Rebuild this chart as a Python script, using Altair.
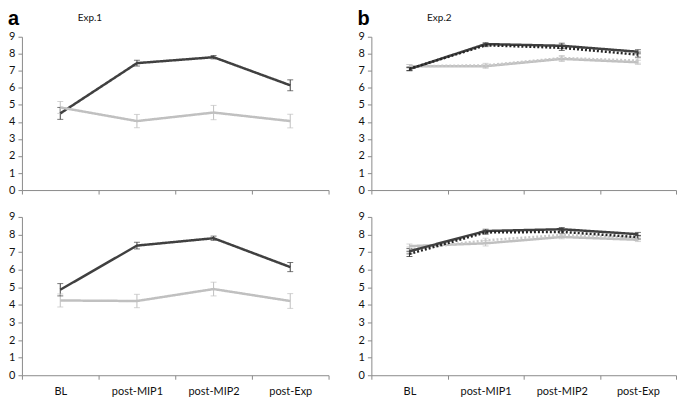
import altair as alt
import pandas as pd

categories = ["BL", "post-MIP1", "post-MIP2", "post-Exp"]

# Exp.1 (panel a) top
e1_top_dark = [4.5, 7.45, 7.8, 6.15]
e1_top_dark_err = [0.35, 0.17, 0.1, 0.32]
e1_top_light = [4.85, 4.05, 4.55, 4.05]
e1_top_light_err = [0.35, 0.39, 0.42, 0.4]
# Exp.1 bottom
e1_bot_dark = [4.86, 7.37, 7.79, 6.15]
e1_bot_dark_err = [0.35, 0.19, 0.12, 0.26]
e1_bot_light = [4.25, 4.22, 4.9, 4.22]
e1_bot_light_err = [0.37, 0.38, 0.39, 0.42]
# Exp.2 (panel b) top
e2_top_dark = [7.1, 8.57, 8.47, 8.12]
e2_top_dark_err = [0.1, 0.08, 0.15, 0.12]
e2_top_dark_dot = [7.12, 8.5, 8.35, 7.95]
e2_top_dark_dot_err = [0.1, 0.08, 0.15, 0.15]
e2_top_light = [7.27, 7.27, 7.7, 7.5]
e2_top_light_err = [0.1, 0.12, 0.15, 0.12]
e2_top_light_dot = [7.27, 7.32, 7.75, 7.6]
e2_top_light_dot_err = [0.1, 0.12, 0.15, 0.15]
# Exp.2 bottom
e2_bot_dark = [7.05, 8.2, 8.3, 8.02]
e2_bot_dark_err = [0.15, 0.1, 0.1, 0.1]
e2_bot_dark_dot = [6.9, 8.12, 8.15, 7.85]
e2_bot_dark_dot_err = [0.15, 0.1, 0.1, 0.1]
e2_bot_light = [7.34, 7.5, 7.86, 7.7]
e2_bot_light_err = [0.12, 0.15, 0.1, 0.1]
e2_bot_light_dot = [7.15, 7.67, 7.97, 7.8]
e2_bot_light_dot_err = [0.15, 0.12, 0.1, 0.1]

series_names = ["dark", "dark dotted", "light", "light dotted"]
series_colors = ["#404040", "#262626", "#c0c0c0", "#c8c8c8"]
series_dash = [[1, 0], [2, 2], [1, 0], [2, 2]]

FONT = "Lato"
AXIS_GRAY = "#8a8a8a"


def make_df(series):
    rows = []
    for name, vals, errs in series:
        for c, v, e in zip(categories, vals, errs):
            rows.append({"cat": c, "series": name, "value": v, "lo": v - e, "hi": v + e})
    return pd.DataFrame(rows)


def panel(series, show_labels, w, h, letter=None, exp_label=None):
    df = make_df(series)
    base = alt.Chart(df)
    x = alt.X(
        "cat:N",
        sort=categories,
        scale=alt.Scale(type="band", paddingInner=0, paddingOuter=0, domain=categories),
        axis=alt.Axis(
            title=None,
            labels=show_labels,
            tickBand="extent",
            domainColor=AXIS_GRAY,
            tickColor=AXIS_GRAY,
            tickSize=4,
            labelAngle=0,
            labelFont=FONT,
            labelFontSize=11,
            labelColor="#111111",
            labelPadding=6,
        ),
    )
    yaxis = alt.Axis(
        title=None,
        values=list(range(10)),
        grid=False,
        labelOverlap=False,
        domainColor=AXIS_GRAY,
        tickColor=AXIS_GRAY,
        tickSize=4,
        labelFont=FONT,
        labelFontSize=11,
        labelColor="#111111",
        labelPadding=3,
    )
    yscale = alt.Scale(domain=[0, 9], nice=False, zero=True)
    color = alt.Color(
        "series:N", scale=alt.Scale(domain=series_names, range=series_colors), legend=None
    )
    dash = alt.StrokeDash(
        "series:N", scale=alt.Scale(domain=series_names, range=series_dash), legend=None
    )
    rules = base.mark_rule(strokeWidth=1).encode(
        x=x, y=alt.Y("lo:Q", scale=yscale, axis=yaxis), y2="hi:Q", color=color
    )
    cap_lo = base.mark_tick(size=6, thickness=1).encode(
        x=x, y=alt.Y("lo:Q", scale=yscale, axis=yaxis), color=color
    )
    cap_hi = base.mark_tick(size=6, thickness=1).encode(
        x=x, y=alt.Y("hi:Q", scale=yscale, axis=yaxis), color=color
    )
    lines = base.mark_line(strokeWidth=2.5).encode(
        x=x,
        y=alt.Y("value:Q", scale=yscale, axis=yaxis),
        color=color,
        strokeDash=dash,
        detail="series:N",
    )
    layers = [rules, cap_lo, cap_hi, lines]
    if letter is not None:
        t1 = alt.Chart(pd.DataFrame({"t": [letter]})).mark_text(
            font="Liberation Sans", fontSize=20, fontWeight="bold", align="left", baseline="alphabetic", color="#000000"
        ).encode(text="t:N", x=alt.value(-14), y=alt.value(-12))
        t2 = alt.Chart(pd.DataFrame({"t": [exp_label]})).mark_text(
            font=FONT, fontSize=10, align="left", baseline="alphabetic", color="#111111"
        ).encode(text="t:N", x=alt.value(56), y=alt.value(-16))
        layers += [t1, t2]
    return alt.layer(*layers).properties(width=w, height=h)


tl = panel(
    [("dark", e1_top_dark, e1_top_dark_err), ("light", e1_top_light, e1_top_light_err)],
    False, 308, 154, "a", "Exp.1",
)
bl = panel(
    [("dark", e1_bot_dark, e1_bot_dark_err), ("light", e1_bot_light, e1_bot_light_err)],
    True, 308, 159,
)
tr = panel(
    [
        ("light", e2_top_light, e2_top_light_err),
        ("light dotted", e2_top_light_dot, e2_top_light_dot_err),
        ("dark", e2_top_dark, e2_top_dark_err),
        ("dark dotted", e2_top_dark_dot, e2_top_dark_dot_err),
    ],
    False, 306, 154, "b", "Exp.2",
)
br = panel(
    [
        ("light", e2_bot_light, e2_bot_light_err),
        ("light dotted", e2_bot_light_dot, e2_bot_light_dot_err),
        ("dark", e2_bot_dark, e2_bot_dark_err),
        ("dark dotted", e2_bot_dark_dot, e2_bot_dark_dot_err),
    ],
    True, 306, 159,
)

chart = (
    alt.vconcat(
        alt.hconcat(tl, tr, spacing=28),
        alt.hconcat(bl, br, spacing=28),
        spacing=16,
    )
    .properties(padding=0, background="white")
    .configure_view(stroke=None)
)

chart.save("out.html", embed_options={"renderer": "svg", "actions": False})
